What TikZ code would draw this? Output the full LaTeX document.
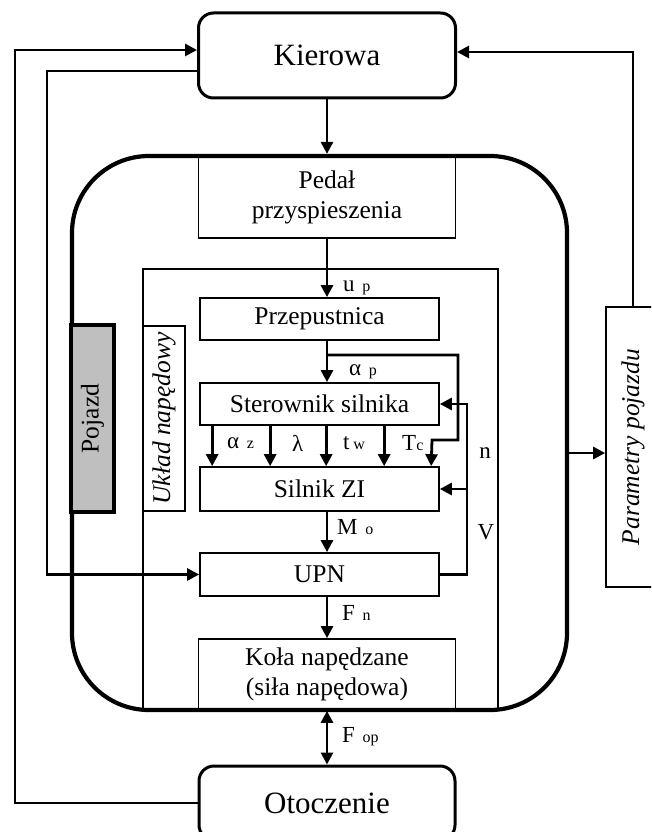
\documentclass[tikz,border=0pt]{standalone}
\usepackage{fontspec}
\setmainfont{Liberation Serif}
\usetikzlibrary{arrows.meta,calc}
\begin{document}
\begin{tikzpicture}[x=1pt,y=-1pt,
  conn/.style={line width=2.8pt,-{Triangle[length=12pt,width=12pt]}},
  dconn/.style={line width=2.8pt,{Triangle[length=12pt,width=12pt]}-{Triangle[length=12pt,width=12pt]}},
  blk/.style={draw,line width=1.7pt,inner sep=0pt,font=\fontsize{25.5}{30}\selectfont,align=center},
  rblk/.style={draw,line width=3pt,rounded corners=15pt,inner sep=0pt,font=\fontsize{31}{34}\selectfont},
  lab/.style={anchor=west,inner sep=0pt,font=\fontsize{23}{26}\selectfont},
  vtext/.style={rotate=90,inner sep=0pt,font=\fontsize{25.5}{30}\selectfont},
]
\useasboundingbox (0,0) rectangle (651,832);
\clip (0,0) rectangle (651,832);

% top and bottom nodes
\node[rblk,minimum width=257pt,minimum height=85pt] (kier) at (327,55.5) {Kierowa};
\node[rblk,minimum width=256pt,minimum height=74pt] (otocz) at (327,803) {Otoczenie};

% inner drive-train box
\node[draw,line width=2pt,minimum width=355pt,minimum height=441pt,inner sep=0pt] (drive) at (320.5,489.5) {};

% blocks
\node[blk,minimum width=257pt,minimum height=82pt] (pedal) at (327,197) {Pedał\\przyspieszenia};
\node[blk,minimum width=239pt,minimum height=42pt] (prz) at (319.5,319) {Przepustnica};
\node[blk,minimum width=239pt,minimum height=42pt] (ster) at (319.5,404) {Sterownik silnika};
\node[blk,minimum width=239pt,minimum height=44pt] (siln) at (319.5,489) {Silnik ZI};
\node[blk,minimum width=239pt,minimum height=43pt] (upn) at (319.5,574.5) {UPN};
\node[blk,minimum width=257pt,minimum height=71pt] (kola) at (327,674.5) {Koła napędzane\\(siła napędowa)};

% side labels
\node[draw,line width=1.7pt,minimum width=42pt,minimum height=185pt,inner sep=0pt] (ukl) at (164,418.5) {};
\node[vtext,font=\fontsize{25.5}{30}\selectfont\itshape] (uklt) at (ukl) {Układ napędowy};
\node[draw,line width=1.7pt,minimum width=54pt,minimum height=280pt,inner sep=0pt] (param) at (633,447) {};
\node[vtext,font=\fontsize{25.5}{30}\selectfont\itshape] (paramt) at (param) {Parametry pojazdu};

% outer vehicle box
\node[draw,line width=4.2pt,rounded corners=77pt,minimum width=495pt,minimum height=554pt,inner sep=0pt] (veh) at (319.5,433) {};
\node[draw,fill=gray!50,line width=3.2pt,minimum width=43pt,minimum height=187pt,inner sep=0pt] (poj) at (92.5,418.5) {};
\node[vtext] (pojt) at (poj) {Pojazd};

% main chain
\draw[conn] (kier.south) -- (kier.south |- veh.north);
\draw[conn] (pedal.south) -- (pedal.south |- prz.north);
\draw[conn] (prz.south -| pedal.south) -- (ster.north -| pedal.south);
\draw[conn] (siln.south -| pedal.south) -- (upn.north -| pedal.south);
\draw[conn] (upn.south -| pedal.south) -- (kola.north);
\draw[dconn] (kola.south) -- (otocz.north);

% controller outputs
\draw[conn] ([xshift=13pt]ster.south west) -- ([xshift=13pt]siln.north west);
\draw[conn] ([xshift=71pt]ster.south west) -- ([xshift=71pt]siln.north west);
\draw[conn] ([xshift=127pt]ster.south west) -- ([xshift=127pt]siln.north west);
\draw[conn] ([xshift=185pt]ster.south west) -- ([xshift=185pt]siln.north west);

% alpha_p loop to Tc
\coordinate (ap) at (327,355);
\draw[conn] (ap) -- (458,355) -- (458,440) -- (432,440) -- ([xshift=232pt]siln.north west);

% feedback n, V
\draw[conn] (upn.east) -- (467,574.5) -- (467,404) -- (ster.east);
\draw[conn] (467,489) -- (siln.east);

% outer loops
\draw[conn] (otocz.west) -- (15,803) -- (15,50) -- ([yshift=5.5pt]kier.west);
\draw[conn] ([yshift=-15.5pt]kier.west) -- (47,71) -- (47,574.5) -- (upn.west);
\draw[conn] (param.north) -- (633,52) -- ([yshift=3.5pt]kier.east);
\draw[conn] ([yshift=-20pt]veh.east) -- ([yshift=-6pt]param.west);

% labels
\node[lab] (lup) at (343,288) {u\,\,{\fontsize{16}{18}\selectfont p}};
\node[lab] (lap) at (349,372) {α\,\,{\fontsize{16}{18}\selectfont p}};
\node[lab] (laz) at (227,443) {α\,\,{\fontsize{16}{18}\selectfont z}};
\node[lab] (llam) at (292,443) {λ};
\node[lab] (ltw) at (343,443) {t\,{\fontsize{16}{18}\selectfont w}};
\node[lab] (ltc) at (402,443) {T{\fontsize{16}{18}\selectfont c}};
\node[lab] (lmo) at (337,527) {M\,\,{\fontsize{16}{18}\selectfont o}};
\node[lab] (lfn) at (342,613) {F\,\,{\fontsize{16}{18}\selectfont n}};
\node[lab] (lfop) at (342,737) {F\,\,{\fontsize{16}{18}\selectfont op}};
\node[inner sep=0pt,font=\fontsize{23}{26}\selectfont] (ln) at (485,453) {n};
\node[inner sep=0pt,font=\fontsize{23}{26}\selectfont] (lv) at (486,532) {V};
\end{tikzpicture}
\end{document}
